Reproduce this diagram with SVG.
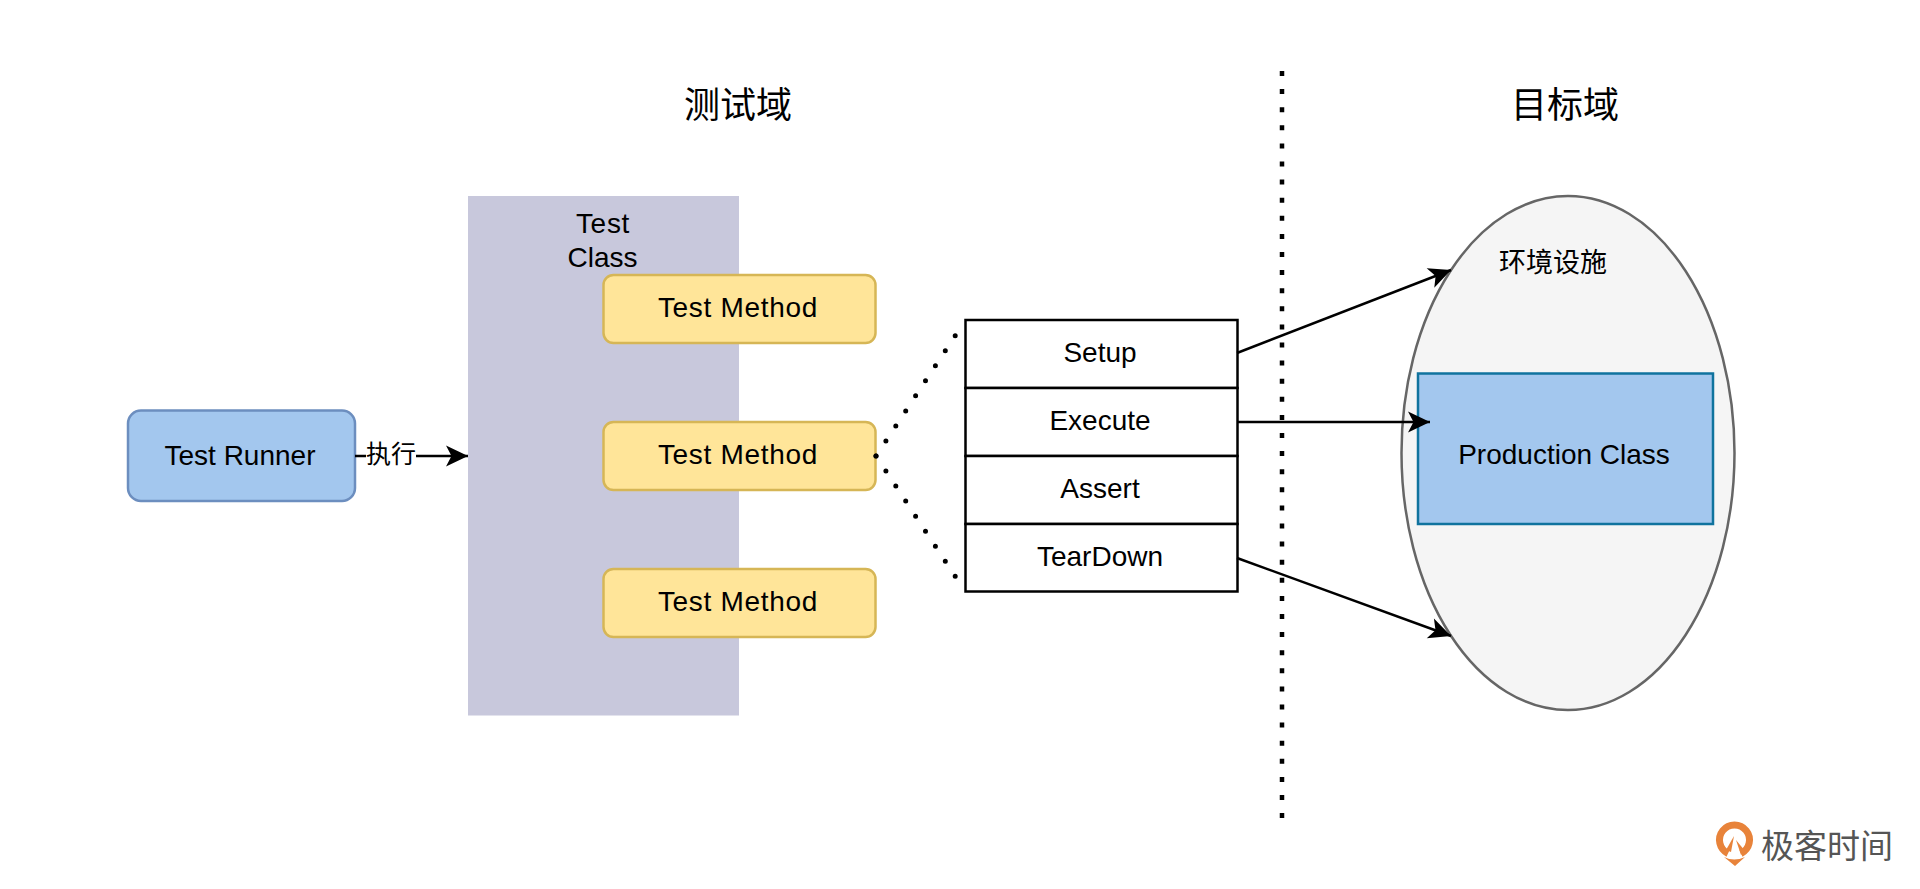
<svg xmlns="http://www.w3.org/2000/svg" width="1920" height="889" viewBox="0 0 1920 889">
<style>
text{font-family:"Liberation Sans","Noto Sans CJK SC",sans-serif;fill:#000;text-anchor:middle}
.t{font-size:28px}
.mt{font-size:28px;letter-spacing:.7px}
.cjk{font-family:"Noto Sans CJK SC",sans-serif}
.m{fill:#FFE599;stroke:#D6B656;stroke-width:2.5}
.row{fill:#fff;stroke:#000;stroke-width:2.5}
.ln{fill:none;stroke:#000;stroke-width:2.5}
.dot{fill:none;stroke:#000;stroke-width:5;stroke-dasharray:0 18;stroke-linecap:round}
</style>
<defs>
<marker id="arr" markerUnits="userSpaceOnUse" markerWidth="26" markerHeight="26" refX="24" refY="13" orient="auto">
<path d="M2 2.500L24 13L2 23.500L7.500 13Z" fill="#000"/>
</marker>
</defs>
<rect width="1920" height="889" fill="#fff"/>
<g id="title-test"><text class="cjk" x="738" y="118" font-size="36">测试域</text></g>
<g id="title-target"><text class="cjk" x="1565" y="118" font-size="36">目标域</text></g>
<g id="test-class">
<rect x="468" y="196" width="271" height="519.500" fill="#C8C8DC"/>
<text class="mt" x="603" y="233">Test</text>
<text class="t" x="602.500" y="267">Class</text>
</g>
<g id="test-runner">
<rect x="128" y="410.500" width="227" height="90.500" rx="13" fill="#A3C7EE" stroke="#6C8EBF" stroke-width="2.500"/>
<text class="t" x="240" y="465">Test Runner</text>
</g>
<g id="method-1"><rect class="m" x="603.500" y="275" width="272" height="68" rx="10"/><text class="mt" x="738" y="317">Test Method</text></g>
<g id="method-2"><rect class="m" x="603.500" y="422" width="272" height="68" rx="10"/><text class="mt" x="738" y="464">Test Method</text></g>
<g id="method-3"><rect class="m" x="603.500" y="569" width="272" height="68" rx="10"/><text class="mt" x="738" y="611">Test Method</text></g>
<g id="steps">
<rect class="row" x="965.500" y="320" width="272" height="68"/>
<rect class="row" x="965.500" y="388" width="272" height="68"/>
<rect class="row" x="965.500" y="456" width="272" height="68"/>
<rect class="row" x="965.500" y="524" width="272" height="67.500"/>
<text class="t" x="1100" y="362">Setup</text>
<text class="t" x="1100" y="430">Execute</text>
<text class="t" x="1100" y="498">Assert</text>
<text class="t" x="1100" y="566">TearDown</text>
</g>
<g id="infrastructure">
<ellipse cx="1568" cy="453" rx="166.500" ry="257" fill="#F5F5F5" stroke="#666" stroke-width="2.500"/>
<text class="cjk" x="1553" y="272" font-size="27">环境设施</text>
</g>
<g id="production-class">
<rect x="1418" y="373.500" width="295" height="150.500" fill="#A3C7EE" stroke="#10739E" stroke-width="2.500"/>
<text class="t" x="1564" y="464">Production Class</text>
</g>
<g id="connectors">
<path class="ln" d="M355 456H468" marker-end="url(#arr)"/>
<rect x="366" y="438" width="50" height="34" fill="#fff"/>
<text class="cjk" x="391" y="463" font-size="25">执行</text>
<path class="dot" d="M876 456L957 333"/>
<path class="dot" d="M876 456L957 579"/>
<path d="M1282 71V820" fill="none" stroke="#000" stroke-width="4.500" stroke-dasharray="5 13.100"/>
<path class="ln" d="M1237 353L1451 270" marker-end="url(#arr)"/>
<path class="ln" d="M1237 422H1430" marker-end="url(#arr)"/>
<path class="ln" d="M1237 558L1451 636" marker-end="url(#arr)"/>
</g>
<g id="logo">
<path d="M1728 853.500A15 15 0 1 1 1741 853.500" fill="none" stroke="#E8833A" stroke-width="7"/>
<path d="M1734 836L1731 852L1726 850Z" fill="#E8833A"/>
<path d="M1736 840L1741 855L1745 851Z" fill="#E8833A"/>
<path d="M1724 857Q1734 862 1745 857L1735 866Z" fill="#E8833A"/>
<text class="cjk" x="1827" y="858" font-size="33" style="fill:#555">极客时间</text>
</g>
</svg>
